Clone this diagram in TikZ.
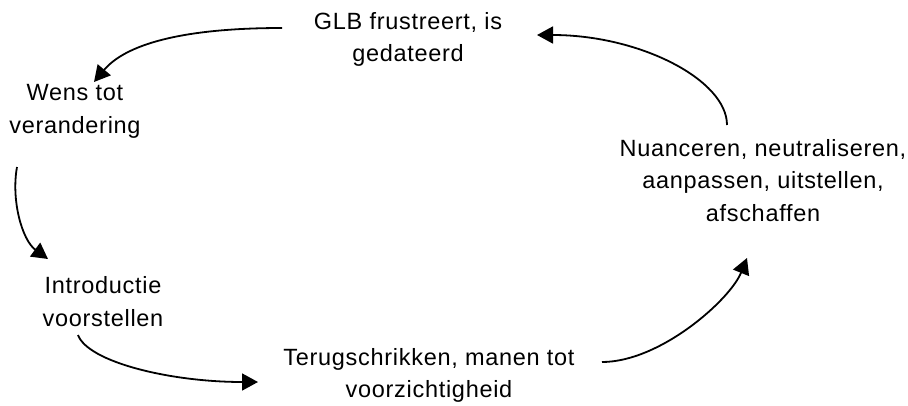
\documentclass[tikz,border=0pt]{standalone}
\usepackage{fontspec}
\setmainfont[LetterSpace=3]{Liberation Sans}
\usetikzlibrary{arrows.meta,calc}
\tikzset{
  lbl/.style={align=center,inner sep=0pt,font=\fontsize{23.5}{32.5}\selectfont},
  cyc/.style={line width=1.8pt,-{Triangle[length=16pt,width=17pt]}}
}
\begin{document}
\begin{tikzpicture}[x=1pt,y=-1pt]
\useasboundingbox (0,0) rectangle (908,405);
\node[lbl] (glb) at (408,39.5) {GLB frustreert, is\\gedateerd};
\node[lbl] (wens) at (75,111.5) {Wens tot\\verandering};
\node[lbl] (intro) at (103,301.5) {Introductie\\voorstellen};
\node[lbl] (terug) at (429,375.5) {Terugschrikken, manen tot\\voorzichtigheid};
\node[lbl] (nuance) at (763,180.5) {Nuanceren, neutraliseren,\\aanpassen, uitstellen,\\afschaffen};
\draw[cyc] ($(glb)+(-126,-11.5)$) .. controls (180,28) and (125,45) .. ($(wens)+(19,-29.5)$);
\draw[cyc] ($(wens)+(-58,55.5)$) .. controls (11,200) and (22,240) .. ($(intro)+(-55,-42.5)$);
\draw[cyc] ($(intro)+(-25,33.5)$) .. controls (88,362) and (170,382) .. ($(terug)+(-171,6.5)$);
\draw[cyc] ($(terug)+(173,-13.5)$) .. controls (660,362) and (730,300) .. ($(nuance)+(-16,77.5)$);
\draw[cyc] ($(nuance)+(-36,-55.5)$) .. controls (727,80) and (640,35) .. ($(glb)+(129,-4.5)$);
\end{tikzpicture}
\end{document}
